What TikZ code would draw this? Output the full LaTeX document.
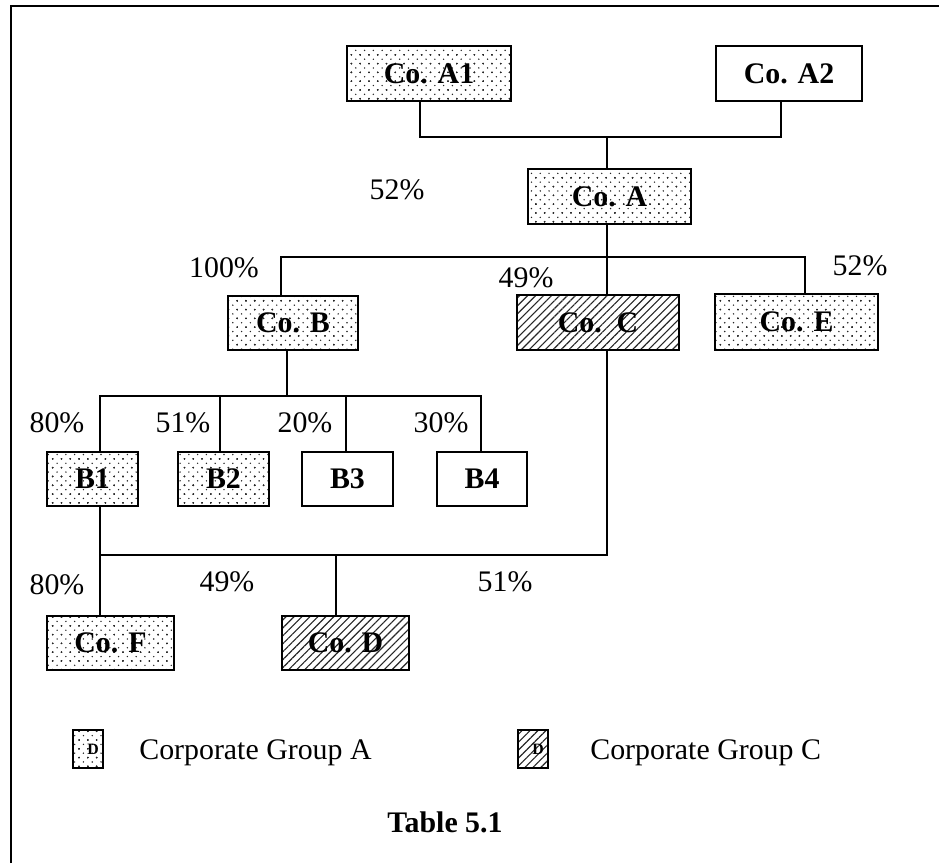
\documentclass[tikz,border=0pt]{standalone}
\usepackage{fontspec}
\setmainfont{Liberation Serif}
\usetikzlibrary{patterns,patterns.meta}
\pgfdeclarepatternformonly{sdots}{\pgfqpoint{-1pt}{-1pt}}{\pgfqpoint{6pt}{6pt}}{\pgfqpoint{5pt}{5pt}}{%
  \pgfpathcircle{\pgfqpoint{0pt}{0pt}}{0.45pt}%
  \pgfpathcircle{\pgfqpoint{2.5pt}{2.5pt}}{0.45pt}%
  \pgfpathcircle{\pgfqpoint{5pt}{0pt}}{0.45pt}%
  \pgfpathcircle{\pgfqpoint{0pt}{5pt}}{0.45pt}%
  \pgfpathcircle{\pgfqpoint{5pt}{5pt}}{0.45pt}%
  \pgfusepath{fill}}
\begin{document}
\begin{tikzpicture}[x=0.02cm,y=-0.02cm,
  every node/.style={font=\fontsize{17}{20}\selectfont},
  cobox/.style={draw,line width=1.1pt,rectangle,inner sep=0pt,font=\fontsize{17}{20}\selectfont\bfseries},
  dotfill/.style={pattern=sdots,pattern color=black!85},
  hatchfill/.style={pattern={Lines[angle=45,distance=3.2pt,line width=0.65pt]},pattern color=black!85},
  grpA/.style={cobox,dotfill},
  grpC/.style={cobox,hatchfill},
  plain/.style={cobox,fill=white},
  link/.style={line width=1pt},
  pct/.style={inner sep=0pt},
  legbox/.style={draw,line width=0.8pt,minimum width=0.6cm,minimum height=0.76cm,inner sep=0pt},
  legmark/.style={inner sep=0pt,font=\fontsize{9}{10}\selectfont\bfseries}]
\useasboundingbox (0,0) rectangle (939,863);
% frame
\draw[line width=1.2pt] (11,863) -- (11,6) -- (939,6);

% boxes
\node[grpA,minimum width=3.28cm,minimum height=1.10cm] (a1) at (429,73.5) {Co. A1};
\node[plain,minimum width=2.92cm,minimum height=1.10cm] (a2) at (789,73.5) {Co. A2};
\node[grpA,minimum width=3.26cm,minimum height=1.10cm] (a) at (609.5,196.5) {Co. A};
\node[grpA,minimum width=2.60cm,minimum height=1.08cm] (b) at (293,323) {Co. B};
\node[grpC,minimum width=3.24cm,minimum height=1.10cm] (c) at (598,322.5) {Co.\ \ C};
\node[grpA,minimum width=3.26cm,minimum height=1.12cm] (e) at (796.5,322) {Co. E};
\node[grpA,minimum width=1.82cm,minimum height=1.08cm] (b1) at (92.5,479) {B1};
\node[grpA,minimum width=1.82cm,minimum height=1.08cm] (b2) at (223.5,479) {B2};
\node[plain,minimum width=1.82cm,minimum height=1.08cm] (b3) at (347.5,479) {B3};
\node[plain,minimum width=1.80cm,minimum height=1.08cm] (b4) at (482,479) {B4};
\node[grpA,minimum width=2.54cm,minimum height=1.08cm] (f) at (110.5,643) {Co. F};
\node[grpC,minimum width=2.54cm,minimum height=1.08cm] (d) at (345.5,643) {Co. D};

% junctions
\coordinate (ja1) at (420,137);
\coordinate (ja2) at (781,137);
\coordinate (ja) at (607,137);
\coordinate (jb) at (281,257);
\coordinate (jc) at (607,257);
\coordinate (je) at (805,257);
\coordinate (jbb) at (287,396);
\coordinate (j1) at (100,396);
\coordinate (j2) at (220,396);
\coordinate (j3) at (346,396);
\coordinate (j4) at (481,396);
\coordinate (jf) at (100,555);
\coordinate (jcc) at (607,555);
\coordinate (jd) at (336,555);

% connectors
\draw[link] (a1.south -| ja1) -- (ja1) -- (ja2) -- (a2.south -| ja2);
\draw[link] (ja) -- (a.north -| ja);
\draw[link] (a.south -| jc) -- (jc) -- (c.north -| jc);
\draw[link] (b.north -| jb) -- (jb) -- (je) -- (e.north -| je);
\draw[link] (b.south -| jbb) -- (jbb);
\draw[link] (b1.north -| j1) -- (j1) -- (j4) -- (b4.north -| j4);
\draw[link] (j2) -- (b2.north -| j2);
\draw[link] (j3) -- (b3.north -| j3);
\draw[link] (b1.south -| jf) -- (f.north -| jf);
\draw[link] (jf) -- (jcc) -- (c.south -| jcc);
\draw[link] (jd) -- (d.north -| jd);

% percentages
\node[pct] (p1) at (397,190) {52\%};
\node[pct] (p2) at (224,268) {100\%};
\node[pct] (p3) at (526,278) {49\%};
\node[pct] (p4) at (860,266) {52\%};
\node[pct] (p5) at (57,423) {80\%};
\node[pct] (p6) at (183,423) {51\%};
\node[pct] (p7) at (305,423) {20\%};
\node[pct] (p8) at (441,423) {30\%};
\node[pct] (p9) at (57,585) {80\%};
\node[pct] (p10) at (227,582) {49\%};
\node[pct] (p11) at (505,582) {51\%};

% legend
\node[legbox,dotfill] (la) at (88,749) {};
\node[legmark] (lam) at ([xshift=0.1cm]la.center) {D};
\node[anchor=west,inner sep=0pt] (lat) at (139,753) {Corporate Group A};
\node[legbox,hatchfill] (lc) at (533,749) {};
\node[legmark] (lcm) at ([xshift=0.1cm]lc.center) {D};
\node[anchor=west,inner sep=0pt] (lct) at (590,753) {Corporate Group C};
\node[font=\fontsize{17}{20}\selectfont\bfseries] (cap) at (445,822) {Table 5.1};
\end{tikzpicture}
\end{document}
